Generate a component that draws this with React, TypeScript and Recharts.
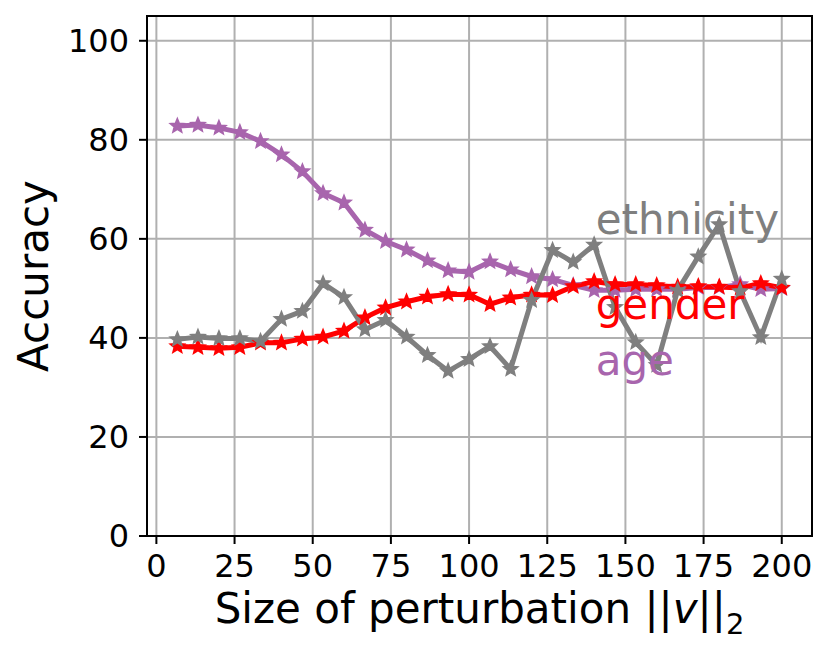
import { LineChart, Line, XAxis, YAxis, CartesianGrid, ReferenceArea, ReferenceDot } from 'recharts';

const perturbation = [6.7, 13.3, 20, 26.7, 33.3, 40, 46.7, 53.3, 60, 66.7, 73.3, 80, 86.7, 93.3, 100, 106.7, 113.3, 120, 126.7, 133.3, 140, 146.7, 153.3, 160, 166.7, 173.3, 180, 186.7, 193.3, 200];
const age = [82.8, 83.0, 82.4, 81.5, 79.7, 77.0, 73.6, 69.2, 67.3, 61.8, 59.5, 57.8, 55.6, 53.6, 53.3, 55.4, 53.8, 52.4, 51.8, 50.6, 49.6, 49.6, 49.8, 49.8, 49.8, 50.2, 50.2, 50.8, 49.8, 50.0];
const gender = [38.3, 38.1, 37.9, 38.1, 39.0, 39.0, 39.8, 40.2, 41.4, 44.1, 46.1, 47.3, 48.3, 48.8, 48.7, 46.8, 48.1, 48.7, 48.6, 50.4, 51.4, 50.8, 50.8, 50.6, 50.3, 50.4, 50.3, 50.1, 51.0, 50.1];
const ethnicity = [39.7, 40.2, 39.9, 39.9, 39.3, 43.8, 45.4, 51.0, 48.2, 41.7, 43.6, 40.2, 36.5, 33.3, 35.7, 38.3, 33.7, 47.6, 57.7, 55.3, 58.8, 46.2, 39.1, 34.5, 49.6, 56.4, 62.9, 49.4, 40.1, 51.9];

const xTicks = [0, 25, 50, 75, 100, 125, 150, 175, 200];
const yTicks = [0, 20, 40, 60, 80, 100];

// text labels placed in data coordinates
const seriesLabels = [
  { name: 'ethnicity', x: 140.5, y: 60.9, color: '#7f7f7f' },
  { name: 'gender', x: 140.5, y: 43.8, color: '#ff0000' },
  { name: 'age', x: 140.5, y: 32.6, color: '#a865ad' },
];

const data = perturbation.map((p, i) => ({
  p,
  age: age[i],
  gender: gender[i],
  ethnicity: ethnicity[i],
}));

const FONT = '"DejaVu Sans", sans-serif';

const starPath = (cx: number, cy: number, R: number, r: number) => {
  let d = '';
  for (let k = 0; k < 10; k++) {
    const rad = k % 2 === 0 ? R : r;
    const a = -Math.PI / 2 + (k * Math.PI) / 5;
    d += (k === 0 ? 'M' : 'L') + (cx + rad * Math.cos(a)).toFixed(2) + ',' + (cy + rad * Math.sin(a)).toFixed(2);
  }
  return d + 'Z';
};

const starDot = (color: string) => (props: any) => {
  const { cx, cy, index } = props;
  if (cx == null || cy == null) return <g key={index} />;
  return <path key={index} d={starPath(cx, cy, 7.5, 3.3)} fill={color} stroke={color} strokeWidth={1.5} />;
};

export default function App() {
  return (
    <div style={{ position: 'absolute', left: 0, top: 0, background: '#fff' }}>
      <LineChart width={830} height={656} data={data} margin={{ top: 16, right: 18, left: 0, bottom: 0 }}>
        <CartesianGrid stroke="#b0b0b0" strokeWidth={2} />
        <XAxis
          dataKey="p"
          type="number"
          domain={[-3, 209.67]}
          allowDataOverflow
          ticks={xTicks}
          height={120}
          tickSize={8}
          tickMargin={10}
          axisLine={{ stroke: '#000', strokeWidth: 2 }}
          tickLine={{ stroke: '#000', strokeWidth: 2 }}
          tick={{ fontSize: 32, fill: '#000', fontFamily: FONT }}
          label={(props: any) => {
            const vb = props.viewBox;
            return (
              <text x={vb.x + vb.width / 2} y={vb.y + 87} textAnchor="middle" fontSize={42} fontFamily={FONT} fill="#000">
                Size of perturbation ||<tspan fontStyle="italic">v</tspan>||<tspan fontSize={29} dy={11}>2</tspan>
              </text>
            );
          }}
        />
        <YAxis
          type="number"
          domain={[0, 105]}
          allowDataOverflow
          ticks={yTicks}
          width={147}
          tickSize={8}
          tickMargin={10}
          axisLine={{ stroke: '#000', strokeWidth: 2 }}
          tickLine={{ stroke: '#000', strokeWidth: 2 }}
          tick={{ fontSize: 32, fill: '#000', fontFamily: FONT }}
          label={(props: any) => {
            const vb = props.viewBox;
            const x = vb.x + 48;
            const y = vb.y + vb.height / 2;
            return (
              <text x={x} y={y} transform={`rotate(-90, ${x}, ${y})`} textAnchor="middle" fontSize={42} fontFamily={FONT} fill="#000">
                Accuracy
              </text>
            );
          }}
        />
        <Line dataKey="age" stroke="#a865ad" strokeWidth={5} dot={starDot('#a865ad')} isAnimationActive={false} />
        <Line dataKey="gender" stroke="#ff0000" strokeWidth={5} dot={starDot('#ff0000')} isAnimationActive={false} />
        <Line dataKey="ethnicity" stroke="#7f7f7f" strokeWidth={5} dot={starDot('#7f7f7f')} isAnimationActive={false} />
        {seriesLabels.map((s) => (
          <ReferenceDot
            key={s.name}
            x={s.x}
            y={s.y}
            r={1}
            fill="none"
            stroke="none"
            ifOverflow="visible"
            label={(props: any) => {
              const vb = props.viewBox;
              return (
                <text x={vb.x + vb.width / 2} y={vb.y + vb.height / 2} fontSize={42} fontFamily={FONT} fill={s.color}>
                  {s.name}
                </text>
              );
            }}
          />
        ))}
        <ReferenceArea x1={-3} x2={209.67} y1={0} y2={105} fill="none" stroke="#000" strokeWidth={2} ifOverflow="visible" />
      </LineChart>
    </div>
  );
}
